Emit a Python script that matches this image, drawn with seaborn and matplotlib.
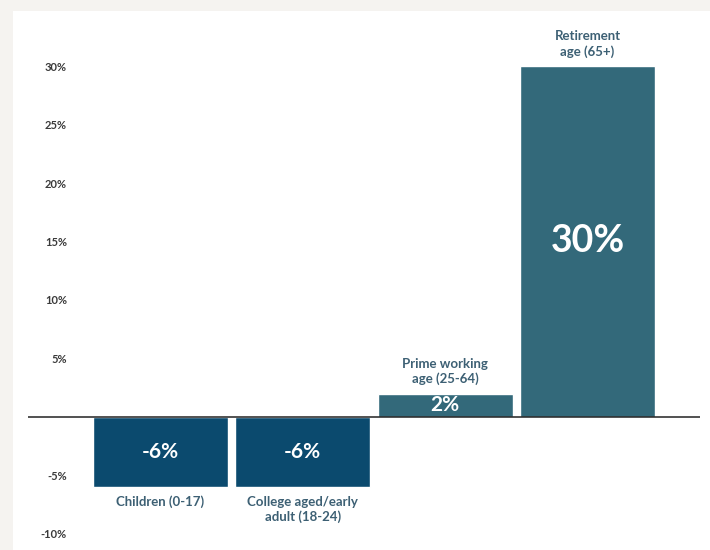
import matplotlib
matplotlib.use("Agg")
import matplotlib.pyplot as plt
import seaborn as sns
import pandas as pd
from matplotlib.patches import Rectangle

categories = ["Children (0-17)", "College aged/early\nadult (18-24)",
              "Prime working\nage (25-64)", "Retirement\nage (65+)"]
values = [-6, -6, 2, 30]
value_labels = ["-6%", "-6%", "2%", "30%"]
yticks = [-10, -5, 5, 10, 15, 20, 25, 30]
ytick_labels = ["-10%", "-5%", "5%", "10%", "15%", "20%", "25%", "30%"]

neg_color = "#0b4a6e"
pos_color = "#33697a"
label_color = "#3d6074"

df = pd.DataFrame({"group": categories, "change": values})
df["sign"] = ["neg" if v < 0 else "pos" for v in values]

sns.set_style("white")
plt.rcParams["font.family"] = ["Lato", "DejaVu Sans"]

W, H = 710, 550
fig = plt.figure(figsize=(W / 100, H / 100), dpi=100)
fig.patch.set_facecolor("#f5f3f0")
# white panel behind the axes
fig.patches.append(Rectangle((13 / W, 0), 1, 1 - 11 / H, transform=fig.transFigure,
                             facecolor="white", edgecolor="none", zorder=-5))

ax = fig.add_axes([28 / W, 0, (700 - 28) / W, 1])
ax.set_facecolor("none")

sns.barplot(data=df, x="group", y="change", hue="sign",
            palette={"neg": neg_color, "pos": pos_color},
            width=0.95, saturation=1, legend=False, ax=ax, zorder=2)

# pixel mapping: 30% at y=66px, -10% at y=534px
ppu = (534 - 66) / 40
ax.set_ylim(30 - (H - 66) / ppu, 30 + 66 / ppu)
ax.set_xlim(-0.93, 3.79)
ax.axhline(0, color="#222222", lw=1.1, zorder=3)

for i, (v, lab, cat) in enumerate(zip(values, value_labels, categories)):
    big = abs(v) > 10
    ax.text(i, v / 2, lab, ha="center", va="center", color="white",
            fontsize=27 if big else 15, fontweight="bold", zorder=4)
    if v >= 0:
        ax.annotate(cat, (i, v), xytext=(0, 6), textcoords="offset points",
                    ha="center", va="bottom", fontsize=9.5, fontweight="bold",
                    color=label_color, linespacing=1.25)
    else:
        ax.annotate(cat, (i, v), xytext=(0, -6), textcoords="offset points",
                    ha="center", va="top", fontsize=9.5, fontweight="bold",
                    color=label_color, linespacing=1.25)

ax.set_yticks(yticks)
ax.set_yticklabels(ytick_labels, fontsize=8, fontweight="bold", color="#3a3a3a")
ax.tick_params(axis="y", length=0, pad=-28)
ax.set_xticks([])
ax.set_xlabel("")
ax.set_ylabel("")
sns.despine(ax=ax, left=True, bottom=True)

fig.savefig("out.png", dpi=100, facecolor=fig.get_facecolor())
